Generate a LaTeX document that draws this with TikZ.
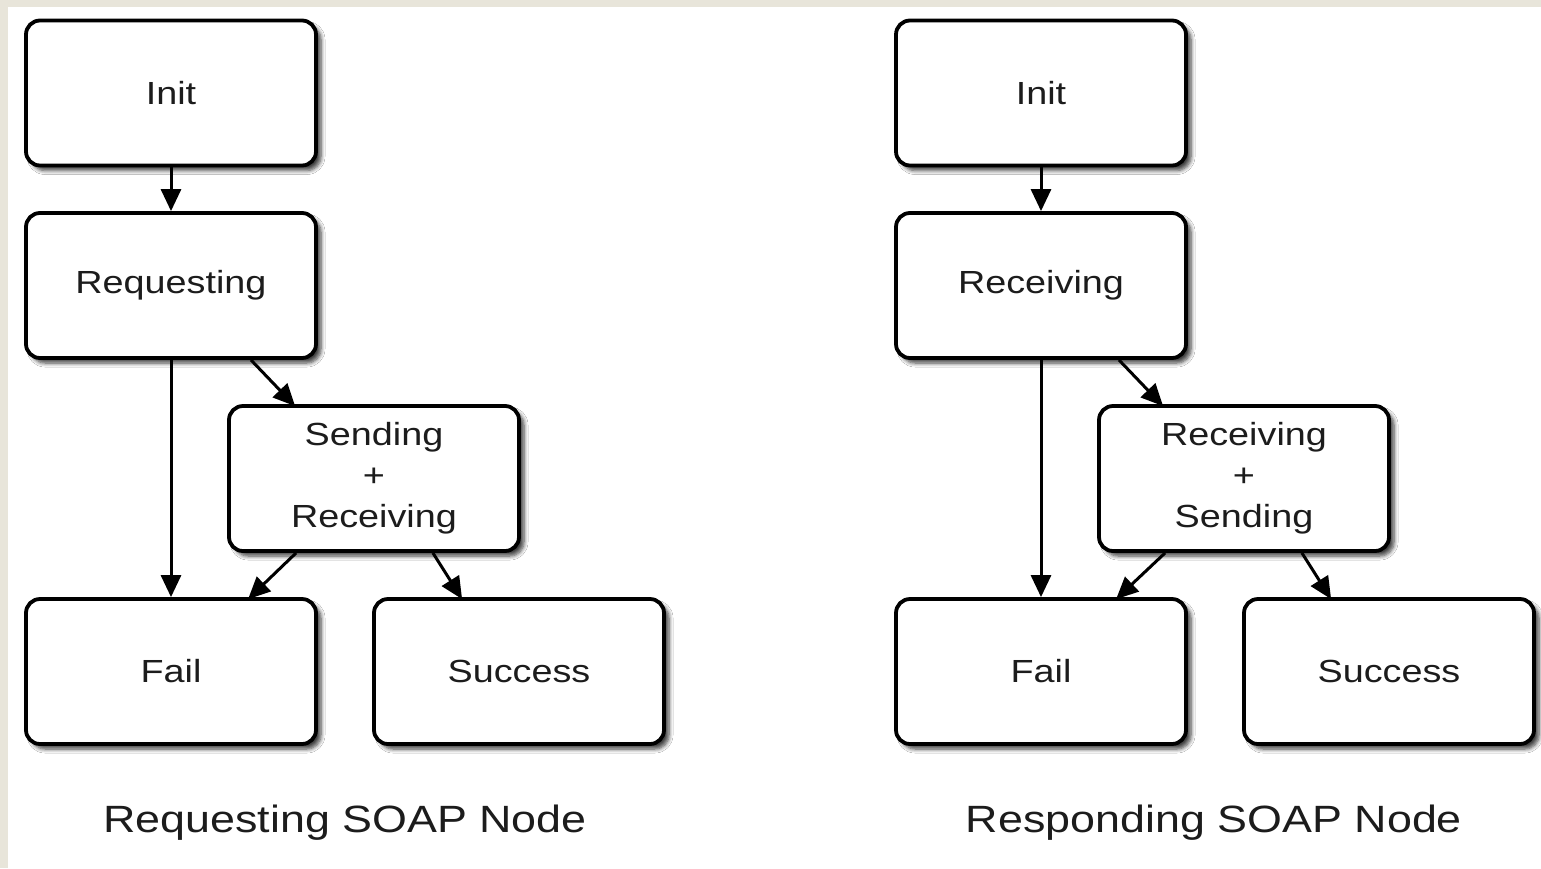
\documentclass[tikz,border=0pt]{standalone}
\usepackage{fontspec}
\setmainfont{Liberation Sans}[FakeStretch=1.18]
\usetikzlibrary{arrows.meta,shadows.blur}
\definecolor{beige}{HTML}{E8E5DA}
\definecolor{ink}{HTML}{1C1C1C}
\tikzset{
  statebox/.style={draw=black, line width=3.8pt, fill=white, rounded corners=14pt,
    minimum width=290pt, minimum height=145pt, inner sep=0pt, align=center,
    text=ink, font=\fontsize{32}{41}\selectfont,
    blur shadow={shadow xshift=5pt, shadow yshift=-5pt, shadow blur steps=6, shadow blur radius=4pt, shadow opacity=75}},
  flow/.style={draw=black, line width=3pt, -{Triangle[length=22pt,width=20pt]}},
  caption/.style={text=ink, font=\fontsize{38}{44}\selectfont, inner sep=0pt}
}
\begin{document}
\begin{tikzpicture}[x=1pt,y=-1pt]
\useasboundingbox (0,0) rectangle (1541,868);
\fill[beige] (0,0) rectangle (1541,868);
\fill[white] (8,7) rectangle (1541,868);

% Left diagram: Requesting SOAP Node
\node[statebox] (linit) at (171,93) {Init};
\node[statebox] (lreq) at (171,285.5) {Requesting};
\node[statebox] (lsr) at (374,478.5) {Sending\\+\\Receiving};
\node[statebox] (lfail) at (171,671.5) {Fail};
\node[statebox] (lsucc) at (519,671.5) {Success};
\node[caption] (lcap) at (345,823) {Requesting SOAP Node};

\draw[flow] (linit.south) -- (lreq.north);
\draw[flow] (lreq.south) -- (lfail.north);
\draw[flow] ([xshift=-67pt]lreq.south east) -- ([xshift=68pt,yshift=-2pt]lsr.north west);
\draw[flow] ([xshift=69pt]lsr.south west) -- ([xshift=224pt,yshift=-2pt]lfail.north west);
\draw[flow] ([xshift=-88pt]lsr.south east) -- ([xshift=90pt,yshift=-2pt]lsucc.north west);

% Right diagram: Responding SOAP Node
\node[statebox] (rinit) at (1041,93) {Init};
\node[statebox] (rrec) at (1041,285.5) {Receiving};
\node[statebox] (rrs) at (1244,478.5) {Receiving\\+\\Sending};
\node[statebox] (rfail) at (1041,671.5) {Fail};
\node[statebox] (rsucc) at (1389,671.5) {Success};
\node[caption] (rcap) at (1214,823) {Responding SOAP Node};

\draw[flow] (rinit.south) -- (rrec.north);
\draw[flow] (rrec.south) -- (rfail.north);
\draw[flow] ([xshift=-69pt]rrec.south east) -- ([xshift=66pt,yshift=-2pt]rrs.north west);
\draw[flow] ([xshift=68pt]rrs.south west) -- ([xshift=222pt,yshift=-2pt]rfail.north west);
\draw[flow] ([xshift=-89pt]rrs.south east) -- ([xshift=89pt,yshift=-2pt]rsucc.north west);
\end{tikzpicture}
\end{document}
